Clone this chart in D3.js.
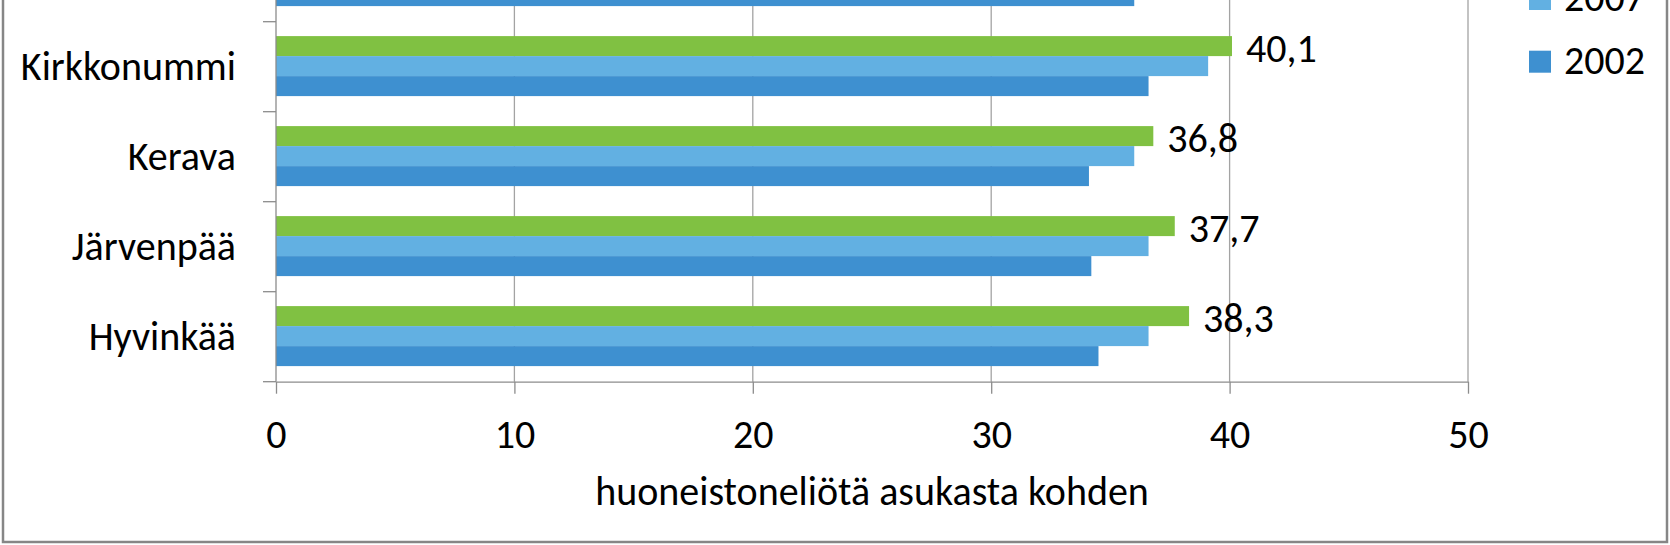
<!DOCTYPE html>
<html>
<head>
<meta charset="utf-8">
<script src="https://cdn.jsdelivr.net/npm/d3@7"></script>
<style>
  html, body { margin: 0; padding: 0; background: #fff; }
  svg { display: block; }
  text { font-family: Carlito, Calibri, Lato, sans-serif; fill: #000; }
</style>
</head>
<body>
<svg id="chart" width="1670" height="545"></svg>
<script>
// Categories top to bottom (chart is cropped at the top; only the lowest bar of the top group is visible)
const categories = ["Mäntsälä", "Kirkkonummi", "Kerava", "Järvenpää", "Hyvinkää"];
const seriesNames = ["2012", "2007", "2002"];
const values2012 = [null, 40.1, 36.8, 37.7, 38.3];
const values2007 = [null, 39.1, 36.0, 36.6, 36.6];
const values2002 = [36.0, 36.6, 34.1, 34.2, 34.5];
const seriesColors = ["#80C142", "#62B0E2", "#3E90D0"];
const xTicks = [0, 10, 20, 30, 40, 50];
const xTitle = "huoneistoneliötä asukasta kohden";

const seriesValues = [values2012, values2007, values2002];
const W = 1670, H = 545;
const plot = { left: 276, right: 1468, top: -68.3, bottom: 381.7 };
const FS = 40;

const svg = d3.select("#chart");
const fi = d3.formatLocale({ decimal: ",", thousands: " ", grouping: [3], currency: ["", ""] });
const fmt = fi.format(".1f");

const x = d3.scaleLinear().domain([0, 50]).range([plot.left, plot.right]);
const y0 = d3.scaleBand().domain(categories).range([plot.top, plot.bottom]).paddingInner(0).paddingOuter(0);
const y1 = d3.scaleBand().domain(seriesNames).range([0, y0.bandwidth()]).paddingInner(0).paddingOuter(0.75).align(0.48);

// outer frame
svg.append("rect").attr("x", 3).attr("y", -50).attr("width", 1664).attr("height", 592)
  .attr("fill", "#fff").attr("stroke", "#868686").attr("stroke-width", 2.5);

// gridlines
svg.append("g").selectAll("line").data(xTicks.filter(d => d > 0)).join("line")
  .attr("x1", d => x(d)).attr("x2", d => x(d))
  .attr("y1", plot.top).attr("y2", plot.bottom)
  .attr("stroke", "#A3A3A3").attr("stroke-width", 1.3);

// bars
const rows = [];
categories.forEach((c, i) => seriesNames.forEach((s, j) => {
  const v = seriesValues[j][i];
  if (v !== null) rows.push({ c, s, v, j });
}));
svg.append("g").selectAll("rect").data(rows).join("rect")
  .attr("x", x(0))
  .attr("y", d => y0(d.c) + y1(d.s))
  .attr("width", d => x(d.v) - x(0))
  .attr("height", y1.bandwidth())
  .attr("fill", d => seriesColors[d.j]);

// value labels for the newest series
svg.append("g").selectAll("text").data(rows.filter(d => d.j === 0)).join("text")
  .attr("x", d => x(d.v) + 14)
  .attr("y", d => y0(d.c) + y1(d.s) + y1.bandwidth() / 2 + 15.5)
  .attr("font-size", FS)
  .text(d => fmt(d.v));

// y axis line and boundary ticks
const gy = svg.append("g");
gy.append("line").attr("x1", plot.left).attr("x2", plot.left)
  .attr("y1", plot.top).attr("y2", plot.bottom).attr("stroke", "#8C8C8C").attr("stroke-width", 1.3);
const bounds = categories.map(c => y0(c)).concat([plot.bottom]);
gy.selectAll("line.t").data(bounds).join("line").attr("class", "t")
  .attr("x1", plot.left - 13).attr("x2", plot.left)
  .attr("y1", d => d).attr("y2", d => d)
  .attr("stroke", "#8C8C8C").attr("stroke-width", 1.3);
// only labels whose text falls inside the (cropped) picture
gy.selectAll("text").data(categories.filter(c => y0(c) + y0.bandwidth() / 2 > 20)).join("text")
  .attr("x", 236)
  .attr("y", d => y0(d) + y0.bandwidth() / 2 + 13)
  .attr("text-anchor", "end")
  .attr("font-size", FS)
  .text(d => d);

// x axis
const gx = svg.append("g").attr("transform", `translate(0,${plot.bottom})`)
  .call(d3.axisBottom(x).tickValues(xTicks).tickSize(12).tickSizeOuter(0).tickFormat(d3.format("d")));
gx.select(".domain").attr("stroke", "#8C8C8C").attr("stroke-width", 1.3);
gx.selectAll(".tick line").attr("stroke", "#8C8C8C").attr("stroke-width", 1.3);
gx.selectAll(".tick text").attr("y", 448 - plot.bottom).attr("dy", null)
  .attr("font-size", FS).attr("font-family", null).attr("fill", "#000");

// x axis title
svg.append("text").attr("x", (plot.left + plot.right) / 2).attr("y", 505)
  .attr("text-anchor", "middle").attr("font-size", FS).text(xTitle);

// legend (entries above the cropped top edge are not drawn)
const legendStep = 62.7, legendBottomCenter = 61.7;
const legendItems = seriesNames.map((s, i) => ({ s, i, cy: legendBottomCenter - (seriesNames.length - 1 - i) * legendStep }))
  .filter(d => d.cy + 12.3 > 0);
const lg = svg.append("g").selectAll("g").data(legendItems).join("g")
  .attr("transform", d => `translate(1529,${d.cy})`);
lg.append("rect").attr("x", 0).attr("y", -11).attr("width", 22).attr("height", 22)
  .attr("fill", d => seriesColors[d.i]);
lg.append("text").attr("x", 35).attr("y", 12.3).attr("font-size", FS).text(d => d.s);
</script>
</body>
</html>
